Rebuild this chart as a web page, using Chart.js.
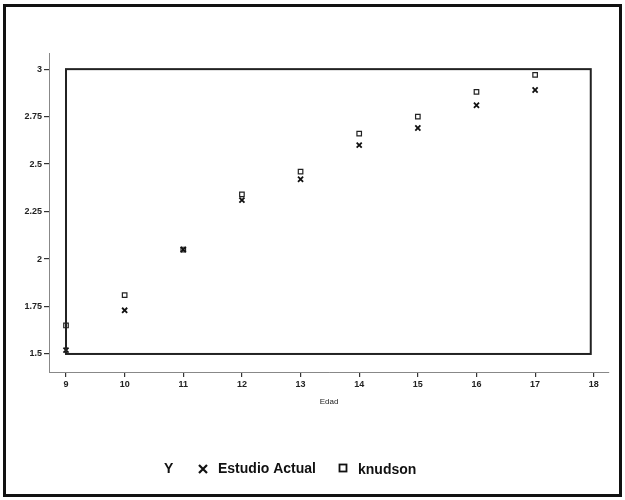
<!DOCTYPE html>
<html>
<head>
<meta charset="utf-8">
<script src="https://cdn.jsdelivr.net/npm/chart.js@4/dist/chart.umd.min.js"></script>
<style>
  html, body { margin: 0; padding: 0; background: #fff; }
  canvas { display: block; }
</style>
</head>
<body>
<canvas id="chart" width="625" height="500"></canvas>
<script>
// Edad (years) and the two series
const edad = [9, 10, 11, 12, 13, 14, 15, 16, 17];
const estudioActual = [1.52, 1.73, 2.05, 2.31, 2.42, 2.60, 2.69, 2.81, 2.89];
const knudson = [1.65, 1.81, 2.05, 2.34, 2.46, 2.66, 2.75, 2.88, 2.97];

const xTicks = [9, 10, 11, 12, 13, 14, 15, 16, 17, 18];
const yTicks = [1.5, 1.75, 2, 2.25, 2.5, 2.75, 3];
const xTitle = "Edad";

const toPoints = vals => edad.map((x, i) => ({ x: x, y: vals[i] }));

const tickFont = { family: "Liberation Sans", size: 9, weight: "bold" };

// outer border, inner plot frame, axis title and the bottom legend
const decorations = {
    id: "decorations",
    beforeDraw(chart) {
        const c = chart.ctx;
        c.save();
        c.fillStyle = "#fff";
        c.fillRect(0, 0, chart.width, chart.height);
        c.restore();
    },
    afterDatasetsDraw(chart) {
        const c = chart.ctx;
        const xs = chart.scales.x, ys = chart.scales.y;
        c.save();
        // frame around the data region
        c.strokeStyle = "#222";
        c.lineWidth = 2;
        const l = xs.getPixelForValue(xTicks[0]);
        const r = xs.getPixelForValue(xTicks[xTicks.length - 1]) - 3;
        const t = ys.getPixelForValue(yTicks[yTicks.length - 1]);
        const b = ys.getPixelForValue(yTicks[0]);
        c.strokeRect(l, t, r - l, b - t);

        // border of the whole figure
        c.strokeStyle = "#111";
        c.lineWidth = 3;
        c.strokeRect(4.5, 5.5, 616, 490);

        // x axis title
        c.fillStyle = "#222";
        c.font = "8px 'Liberation Sans'";
        c.textAlign = "center";
        c.textBaseline = "middle";
        c.fillText(xTitle, (chart.chartArea.left + chart.chartArea.right) / 2, 402);

        // legend
        c.fillStyle = "#111";
        c.font = "bold 14px 'Liberation Sans'";
        c.textAlign = "left";
        const ly = 469;
        c.fillText("Y", 164, ly);
        const ds = chart.data.datasets;
        // cross marker
        c.strokeStyle = "#111";
        c.lineWidth = 2.2;
        c.beginPath();
        c.moveTo(199, ly - 4); c.lineTo(207, ly + 4);
        c.moveTo(207, ly - 4); c.lineTo(199, ly + 4);
        c.stroke();
        c.fillText(ds[0].label, 218, ly);
        // square marker
        c.lineWidth = 1.8;
        c.strokeRect(339.5, ly - 4.5, 7, 7);
        c.fillText(ds[1].label, 358, ly + 1);
        c.restore();
    }
};

new Chart(document.getElementById("chart"), {
    type: "scatter",
    data: {
        datasets: [
            {
                label: "Estudio Actual",
                data: toPoints(estudioActual),
                pointStyle: "crossRot",
                pointRadius: 3.6,
                borderColor: "#111",
                borderWidth: 1.8,
                backgroundColor: "#111"
            },
            {
                label: "knudson",
                data: toPoints(knudson),
                pointStyle: "rect",
                pointRadius: 3.2,
                borderColor: "#222",
                borderWidth: 1.2,
                backgroundColor: "#fff"
            }
        ]
    },
    plugins: [decorations],
    options: {
        responsive: false,
        animation: false,
        devicePixelRatio: 1,
        layout: { padding: { left: 5, right: 16, top: 53, bottom: 0 } },
        plugins: {
            legend: { display: false },
            tooltip: { enabled: false }
        },
        scales: {
            x: {
                type: "linear",
                min: 8.71,
                max: 18.26,
                afterBuildTicks: scale => { scale.ticks = xTicks.map(v => ({ value: v })); },
                afterFit: scale => { scale.height = 128; },
                border: { display: true, color: "#888", width: 1 },
                grid: { drawOnChartArea: false, drawTicks: true, tickLength: 5, color: "#333", lineWidth: 1.2 },
                ticks: { font: tickFont, color: "#222", padding: 2, maxRotation: 0, callback: v => String(v) }
            },
            y: {
                type: "linear",
                min: 1.405,
                max: 3.085,
                afterBuildTicks: scale => { scale.ticks = yTicks.map(v => ({ value: v })); },
                afterFit: scale => { scale.width = 44; },
                border: { display: true, color: "#888", width: 1 },
                grid: { drawOnChartArea: false, drawTicks: true, tickLength: 5, color: "#333", lineWidth: 1.2 },
                ticks: { font: tickFont, color: "#222", padding: 2, callback: v => String(v) }
            }
        }
    }
});
</script>
</body>
</html>
